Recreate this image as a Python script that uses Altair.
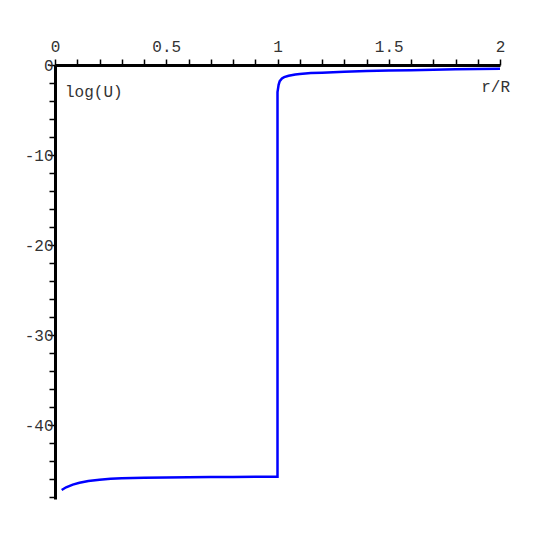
import altair as alt
import pandas as pd

r = [0.03, 0.05, 0.08, 0.11, 0.15, 0.2, 0.25, 0.3, 0.4, 0.5, 0.6, 0.7, 0.8, 0.9, 1.0,
     1.0, 1.005, 1.01, 1.02, 1.03, 1.05, 1.08, 1.1, 1.15, 1.2, 1.3, 1.4, 1.5, 1.6, 1.7, 1.8, 1.9, 2.0]
logU = [-47.2, -46.9, -46.6, -46.4, -46.2, -46.05, -45.95, -45.9, -45.85, -45.8, -45.78, -45.76,
        -45.75, -45.74, -45.73,
        -3.0, -2.2, -1.8, -1.5, -1.35, -1.2, -1.05, -1.0, -0.9, -0.85, -0.75, -0.68, -0.62,
        -0.57, -0.52, -0.48, -0.45, -0.42]

x_ticks = [round(i * 0.1, 1) for i in range(21)]
y_ticks = list(range(-48, 1, 2))

df = pd.DataFrame({"r": r, "u": logU, "i": list(range(len(r)))})

FONT = "Liberation Mono"

xs = alt.Scale(domain=[0, 2], nice=False, zero=False)
ys = alt.Scale(domain=[-48.2, 0], nice=False, zero=False)

line = alt.Chart(df).mark_line(color="#0000ff", strokeWidth=2.5).encode(
    x=alt.X("r:Q", scale=xs, axis=alt.Axis(
        orient="top", values=x_ticks, tickCount=100, title=None, grid=False,
        labelExpr="(round(datum.value*10) % 5 == 0) ? toString(round(datum.value*10)/10) : ''",
        domainWidth=3, domainColor="black", tickColor="black", tickWidth=1.5, tickSize=6,
        labelFont=FONT, labelFontSize=16, labelColor="#333", labelPadding=5,
        labelOverlap=False, labelBound=False, labelFlush=False)),
    y=alt.Y("u:Q", scale=ys, axis=alt.Axis(
        orient="left", values=y_ticks, tickCount=100, title=None, grid=False,
        labelExpr="(datum.value % 10 == 0) ? toString(datum.value) : ''",
        domainWidth=3, domainColor="black", tickColor="black", tickWidth=1.5, tickSize=6,
        labelFont=FONT, labelFontSize=16, labelColor="#333", labelPadding=-4,
        labelOverlap=False, labelBound=False, labelFlush=False)),
    order="i:Q",
)

lab1 = alt.Chart(pd.DataFrame({"t": ["log(U)"], "x": [0.045], "y": [-3.0]})).mark_text(
    font=FONT, fontSize=16, align="left", baseline="middle", color="#333"
).encode(x=alt.X("x:Q", scale=xs), y=alt.Y("y:Q", scale=ys), text="t:N")

lab2 = alt.Chart(pd.DataFrame({"t": ["r/R"], "x": [2.0], "y": [-2.45]})).mark_text(
    font=FONT, fontSize=16, align="right", baseline="middle", color="#333", dx=10
).encode(x=alt.X("x:Q", scale=xs), y=alt.Y("y:Q", scale=ys), text="t:N")

chart = alt.layer(line, lab1, lab2).properties(
    width=445, height=434,
    autosize=alt.AutoSizeParams(type="none"),
    padding={"left": 47, "top": 57, "right": 30, "bottom": 30},
    background="white",
).configure_view(strokeWidth=0)

chart.save("out.html", embed_options={"renderer": "svg", "actions": False})
